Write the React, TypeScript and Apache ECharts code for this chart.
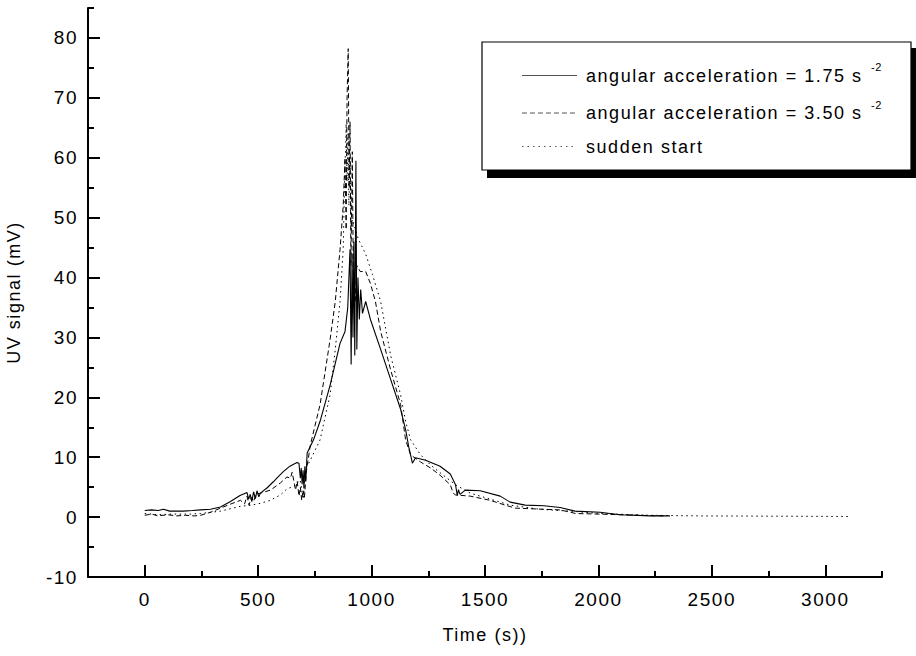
import React, { useEffect, useRef } from "react";
import * as echarts from "echarts";

// Tick positions for the labelled (major) ticks
const xMajorTicks = [0, 500, 1000, 1500, 2000, 2500, 3000];
const yMajorTicks = [-10, 0, 10, 20, 30, 40, 50, 60, 70, 80];

// angular acceleration = 1.75 s^-2 (solid)
const slowTime = [
  0, 30, 60, 83, 110, 127, 170, 210, 246, 290, 334, 378, 420, 451, 458, 465, 472, 480, 488, 495, 503,
  510, 540, 567, 590, 611, 640, 671, 680, 686, 690, 694, 698, 702, 706, 710, 716, 744, 773, 817, 861,
  883, 895, 905, 910, 914, 918, 922, 926, 931, 935, 940, 946, 952, 960, 974, 995, 1040, 1084, 1128,
  1150, 1165, 1172, 1180, 1194, 1238, 1302, 1347, 1370, 1378, 1383, 1390, 1413, 1479, 1567, 1611,
  1677, 1760, 1831, 1897, 2007, 2095, 2227, 2315,
];
const slowSignal = [
  1.1, 1.2, 1.1, 1.3, 1.0, 1.0, 1.0, 1.1, 1.2, 1.3, 1.7, 2.6, 3.6, 4.1, 3.0, 3.8, 2.6, 4.2, 3.1, 4.4, 3.4,
  4.0, 4.9, 5.9, 6.8, 7.6, 8.5, 9.1, 9.0, 6.5, 8.2, 5.5, 7.8, 4.8, 8.5, 6.0, 10.7, 12.9, 16, 22, 29,
  31, 35, 44.7, 25.5, 44, 30, 46, 27, 59.5, 28, 40, 33, 38, 34, 36, 33, 28, 23, 18,
  14.6, 11.5, 10.4, 9.0, 9.9, 9.5, 8.5, 7.2, 5.4, 3.6, 4.6, 3.8, 4.5, 4.4, 3.5, 2.5,
  2.0, 1.9, 1.6, 1.0, 0.8, 0.4, 0.2, 0.2,
];

// angular acceleration = 3.50 s^-2 (dashed)
const fastTime = [
  0, 30, 60, 100, 140, 180, 220, 246, 290, 334, 380, 422, 440, 451, 460, 470, 480, 490, 510, 554, 598,
  627, 642, 650, 660, 665, 672, 680, 686, 692, 698, 704, 712, 730, 773, 817, 840, 861, 875, 883, 888,
  892, 897, 901, 905, 909, 915, 920, 928, 935, 950, 974, 995, 1017, 1040, 1084, 1128, 1150, 1172,
  1216, 1260, 1302, 1347, 1360, 1370, 1435, 1523, 1589, 1633, 1700, 1831, 1900, 2007, 2183, 2290,
];
const fastSignal = [
  0.3, 0.5, 0.2, 0.4, 0.2, 0.3, 0.2, 0.3, 0.8, 1.5, 2.2, 2.8, 2.2, 3.5, 2.0, 3.3, 2.6, 3.8, 4.0, 4.5, 5.7,
  6.7, 6.5, 7.5, 5.5, 4.5, 6.0, 3.5, 5.0, 2.8, 4.5, 3.2, 7.5, 12, 18.8, 29.6, 36, 44.7, 52, 60, 48,
  70, 78.2, 55, 66, 42, 61, 38, 36, 42, 41, 41, 39, 36, 31, 24.6, 18.8, 12.9, 10.4,
  9.2, 8.2, 7.0, 5.4, 4.0, 3.7, 3.5, 2.8, 2.0, 1.5, 1.4, 1.2, 0.6, 0.5, 0.3, 0.2,
];

// sudden start (dotted)
const suddenTime = [
  0, 60, 120, 200, 246, 334, 422, 470, 510, 554, 598, 627, 660, 686, 694, 700, 704, 708, 730, 773, 817,
  840, 861, 875, 882, 886, 888, 892, 896, 900, 905, 910, 915, 942, 974, 1004, 1040, 1084, 1128, 1150,
  1172, 1216, 1260, 1302, 1370, 1435, 1523, 1611, 1743, 1875, 2007, 2227, 2447, 2800, 3100,
];
const suddenSignal = [
  0.6, 0.4, 0.5, 0.5, 0.6, 1.0, 1.8, 2.0, 2.3, 2.8, 3.7, 4.7, 5.2, 6.2, 4.0, 3.0, 5.5, 7.9, 9.5, 12.9, 20.4,
  28, 36, 44.7, 58, 62, 65.7, 56, 64, 52, 60, 48, 49.7, 46.4, 43.9, 40.5, 36, 27, 20.4, 16,
  12.9, 10.4, 8.7, 7.4, 5.4, 4.0, 3.0, 2.0, 1.3, 1.0, 0.6, 0.3, 0.2, 0.15, 0.1,
];

const legendLabels = [
  "angular acceleration = 1.75 s",
  "angular acceleration = 3.50 s",
  "sudden start",
];

const FONT = "'Liberation Sans', Arial, Helvetica, sans-serif";

function pairs(t: number[], v: number[]) {
  return t.map((x, i) => [x, v[i]]);
}

export default function App() {
  const ref = useRef<HTMLDivElement>(null);

  useEffect(() => {
    if (!ref.current) return;
    const chart = echarts.init(ref.current, null, { renderer: "svg" });

    const axisLine = { show: true, onZero: false, lineStyle: { color: "#000", width: 2 } };
    const tickStyle = { color: "#000", width: 2 };
    const labelStyle = { color: "#000", fontSize: 19, fontFamily: FONT };

    const option: any = {
      animation: false,
      backgroundColor: "#fff",
      grid: {
        left: 88,
        right: 34,
        top: 8,
        bottom: 79,
        containLabel: false,
        outerBoundsMode: "none",
      },
      xAxis: [
        {
          type: "value",
          position: "bottom",
          min: -250,
          max: 3250,
          interval: 250,
          axisLine,
          axisTick: { show: true, inside: true, length: 6, lineStyle: tickStyle },
          axisLabel: { show: false },
          splitLine: { show: false },
          name: "Time (s))",
          nameLocation: "middle",
          nameGap: 49,
          nameTextStyle: { color: "#000", fontSize: 18, fontFamily: FONT },
        },
        {
          type: "value",
          position: "bottom",
          min: -250,
          max: 3250,
          axisLine: { show: false, onZero: false },
          axisTick: {
            show: true,
            inside: true,
            length: 12,
            customValues: xMajorTicks,
            lineStyle: tickStyle,
          },
          axisLabel: {
            ...labelStyle,
            margin: 13,
            customValues: xMajorTicks,
            formatter: (v: number) => (xMajorTicks.includes(v) ? String(v) : ""),
          },
          splitLine: { show: false },
        },
      ],
      yAxis: [
        {
          type: "value",
          position: "left",
          min: -10,
          max: 85,
          interval: 5,
          axisLine,
          axisTick: { show: true, inside: true, length: 6, lineStyle: tickStyle },
          axisLabel: { show: false },
          splitLine: { show: false },
          name: "UV signal (mV)",
          nameLocation: "middle",
          nameGap: 65,
          nameTextStyle: { color: "#000", fontSize: 18, fontFamily: FONT },
        },
        {
          type: "value",
          position: "left",
          min: -10,
          max: 85,
          axisLine: { show: false, onZero: false },
          axisTick: {
            show: true,
            inside: true,
            length: 12,
            customValues: yMajorTicks,
            lineStyle: tickStyle,
          },
          axisLabel: {
            ...labelStyle,
            margin: 10,
            customValues: yMajorTicks,
            formatter: (v: number) => (yMajorTicks.includes(v) ? String(v) : ""),
          },
          splitLine: { show: false },
        },
      ],
      series: [
        {
          name: legendLabels[2],
          type: "line",
          xAxisIndex: 0,
          yAxisIndex: 0,
          data: pairs(suddenTime, suddenSignal),
          showSymbol: false,
          symbol: "none",
          lineStyle: { color: "#000", width: 1, type: [1.5, 3.5] },
        },
        {
          name: legendLabels[1],
          type: "line",
          xAxisIndex: 0,
          yAxisIndex: 0,
          data: pairs(fastTime, fastSignal),
          showSymbol: false,
          symbol: "none",
          lineStyle: { color: "#000", width: 1, type: [5, 3] },
        },
        {
          name: legendLabels[0],
          type: "line",
          xAxisIndex: 0,
          yAxisIndex: 0,
          data: pairs(slowTime, slowSignal),
          showSymbol: false,
          symbol: "none",
          lineStyle: { color: "#000", width: 1.1 },
        },
      ],
      graphic: [
        // drop shadow of the key box
        { type: "rect", z: 100, shape: { x: 487, y: 48, width: 440, height: 130 }, style: { fill: "#000" } },
        {
          type: "rect",
          z: 101,
          shape: { x: 482, y: 42, width: 429, height: 128 },
          style: { fill: "#fff", stroke: "#000", lineWidth: 1.2 },
        },
        { type: "line", z: 102, shape: { x1: 522, y1: 75.5, x2: 577, y2: 75.5 }, style: { stroke: "#555", lineWidth: 1.2 } },
        {
          type: "line",
          z: 102,
          shape: { x1: 522, y1: 113, x2: 577, y2: 113 },
          style: { stroke: "#555", lineWidth: 1.2, lineDash: [5, 3] },
        },
        {
          type: "line",
          z: 102,
          shape: { x1: 522, y1: 146.5, x2: 577, y2: 146.5 },
          style: { stroke: "#555", lineWidth: 1.2, lineDash: [1.5, 4] },
        },
        ...legendLabels.map((txt, i) => ({
          type: "text",
          z: 102,
          x: 586,
          y: [75.5, 113, 146.5][i],
          style: { text: txt, fill: "#000", font: `18px ${FONT}`, verticalAlign: "middle" },
        })),
        ...[0, 1].map((i) => ({
          type: "text",
          z: 102,
          x: 871,
          y: [67, 105][i],
          style: { text: "-2", fill: "#000", font: `11px ${FONT}`, verticalAlign: "middle" },
        })),
      ],
    };

    chart.setOption(option);

    // Wide tracking on every text, as in the original plotting software's output
    ref.current.querySelectorAll("text").forEach((el) => {
      const size = parseFloat(getComputedStyle(el).fontSize || "18");
      el.setAttribute("letter-spacing", size < 14 ? "0.5" : "1.55");
    });

    return () => chart.dispose();
  }, []);

  return <div ref={ref} style={{ width: 916, height: 656, position: "absolute", left: 0, top: 0 }} />;
}
